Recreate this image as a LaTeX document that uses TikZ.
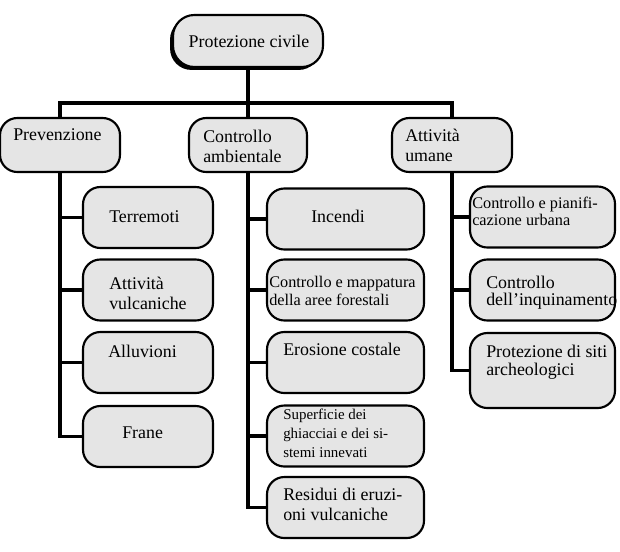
\documentclass[tikz,border=0pt]{standalone}
\usepackage{fontspec}
\setmainfont{Liberation Serif}
\usetikzlibrary{shadows}
\tikzset{
  scatola/.style={draw, line width=1.6pt, rounded corners=13pt, fill=gray!20, inner sep=0pt},
  figlio/.style={scatola, minimum height=45.75pt},
  testo/.style={anchor=base west, inner sep=0pt, align=left, font=\fontsize{13.4}{15}\selectfont},
  piccolo/.style={testo, font=\fontsize{12.2}{13.5}\selectfont},
  linea/.style={line width=2.4pt}
}
\begin{document}
\begin{tikzpicture}[x=0.75pt,y=-0.75pt]
    \useasboundingbox (0,0) rectangle (620,551);
    %radice
    \node[scatola, rounded corners=16pt, minimum width=112.5pt, minimum height=39pt,
          drop shadow={shadow xshift=-2.2pt, shadow yshift=-2.2pt, fill=black, opacity=1}] (radice) at (248,41) {};
    \node[testo, anchor=base] (radice-t) at (249,47) {Protezione civile};
    %livello 1
    \node[scatola, minimum width=90pt, minimum height=40.5pt] (prev) at (60,145) {};
    \node[scatola, minimum width=88.5pt, minimum height=40.5pt] (contr) at (248,145) {};
    \node[scatola, minimum width=90pt, minimum height=40.5pt] (att) at (452,145) {};
    \node[testo] (prev-t) at (13,140) {Prevenzione};
    \node[testo] (contr-t) at (203,162) {Controllo\\ambientale};
    \node[testo] (att-t) at (405,161) {Attività\\umane};
    %prevenzione
    \node[figlio, minimum width=97.5pt] (terr) at (148,217.5) {};
    \node[figlio, minimum width=97.5pt] (vulc) at (148,290) {};
    \node[figlio, minimum width=97.5pt] (allu) at (148,362.5) {};
    \node[figlio, minimum width=97.5pt] (frane) at (148,436.5) {};
    \node[testo] (terr-t) at (109,222) {Terremoti};
    \node[testo, font=\fontsize{13.4}{14.3}\selectfont] (vulc-t) at (109,309) {Attività\\vulcaniche};
    \node[testo] (allu-t) at (108,357) {Alluvioni};
    \node[testo] (frane-t) at (122,438) {Frane};
    %controllo ambientale
    \node[figlio, minimum width=117.75pt] (inc) at (345.5,219) {};
    \node[figlio, minimum width=117.75pt] (mapp) at (345.5,290) {};
    \node[figlio, minimum width=117.75pt] (eros) at (345.5,362.5) {};
    \node[figlio, minimum width=117.75pt] (sup) at (345.5,436) {};
    \node[figlio, minimum width=117.75pt] (resid) at (345.5,507.5) {};
    \node[testo] (inc-t) at (311,222) {Incendi};
    \node[piccolo] (mapp-t) at (269,305) {Controllo e mappatura\\della aree forestali};
    \node[testo] (eros-t) at (283,355) {Erosione costale};
    \node[testo, font=\fontsize{11.2}{14}\selectfont] (sup-t) at (283,457) {Superficie dei\\ghiacciai e dei si-\\stemi innevati};
    \node[testo] (resid-t) at (283,520) {Residui di eruzi-\\oni vulcaniche};
    %attivita umane
    \node[figlio, minimum width=108.75pt] (pian) at (542.5,217) {};
    \node[figlio, minimum width=108.75pt] (inq) at (542.5,290) {};
    \node[figlio, minimum width=108.75pt, minimum height=56.25pt] (prot) at (542.5,370.5) {};
    \node[piccolo, font=\fontsize{12.2}{12.75}\selectfont] (pian-t) at (472,225) {Controllo e pianifi-\\cazione urbana};
    \node[testo, font=\fontsize{13.4}{12.75}\selectfont] (inq-t) at (486,305) {Controllo\\dell’inquinamento};
    \node[testo, font=\fontsize{13.4}{13.5}\selectfont] (prot-t) at (486,375) {Protezione di siti\\archeologici};
    %collegamenti
    \coordinate (barra) at (248,103);
    \draw[linea] (radice.south) -- (barra);
    \draw[linea] (prev.north) |- (barra);
    \draw[linea] (att.north) |- (barra);
    \draw[linea] (contr.north) -- (barra);
    \foreach \f in {terr,vulc,allu,frane} \draw[linea] (prev.south) |- (\f.west);
    \foreach \f in {inc,mapp,eros,sup,resid} \draw[linea] (contr.south) |- (\f.west);
    \foreach \f in {pian,inq,prot} \draw[linea] (att.south) |- (\f.west);
  \end{tikzpicture}
\end{document}
